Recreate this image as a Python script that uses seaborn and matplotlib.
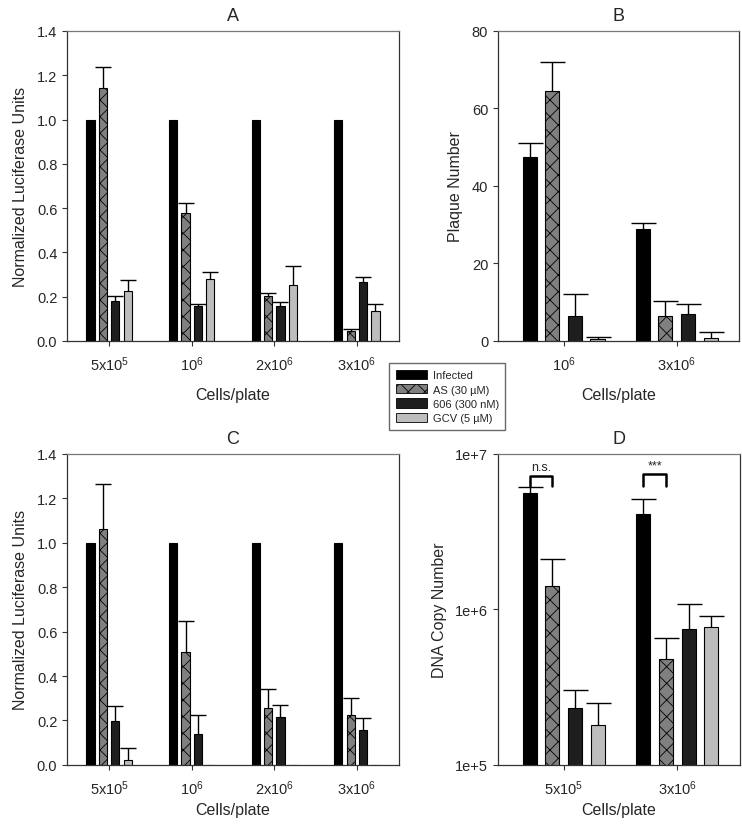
'''Recreate four-panel bar figure (luciferase, plaques, DNA copy number)'''

### IMPORTS ###

import numpy as np
import pandas as pd
import matplotlib
matplotlib.use('Agg')
import matplotlib.pyplot as plt
import seaborn as sns
from matplotlib.patches import Patch

### DATA ###

treatments = ['Infected', 'AS (30 µM)', '606 (300 nM)', 'GCV (5 µM)']
colors = ['#000000', '#808080', '#1e1e1e', '#bdbdbd']

# panel A / C : four cell densities
cells_4 = ['5x10$^5$', '10$^6$', '2x10$^6$', '3x10$^6$']
a_inf = [1.0, 1.0, 1.0, 1.0]
a_as = [1.143, 0.576, 0.202, 0.045]
a_606 = [0.179, 0.156, 0.156, 0.266]
a_gcv = [0.227, 0.278, 0.254, 0.137]
a_inf_err = [0, 0, 0, 0]
a_as_err = [0.093, 0.048, 0.016, 0.011]
a_606_err = [0.022, 0.009, 0.018, 0.023]
a_gcv_err = [0.047, 0.032, 0.084, 0.030]

c_inf = [1.0, 1.0, 1.0, 1.0]
c_as = [1.062, 0.508, 0.255, 0.223]
c_606 = [0.199, 0.137, 0.217, 0.158]
c_gcv = [0.024, 0.0, 0.0, 0.0]
c_inf_err = [0, 0, 0, 0]
c_as_err = [0.203, 0.142, 0.085, 0.077]
c_606_err = [0.065, 0.087, 0.053, 0.051]
c_gcv_err = [0.051, 0, 0, 0]

# panel B : plaques
cells_b = ['10$^6$', '3x10$^6$']
b_inf = [47.6, 29.0]
b_as = [64.4, 6.55]
b_606 = [6.55, 7.0]
b_gcv = [0.6, 0.86]
b_inf_err = [3.4, 1.4]
b_as_err = [7.5, 3.65]
b_606_err = [5.65, 2.6]
b_gcv_err = [0.5, 1.55]

# panel D : DNA copies
cells_d = ['5x10$^5$', '3x10$^6$']
d_inf = [5.63e6, 4.12e6]
d_as = [1.41e6, 4.83e5]
d_606 = [2.32e5, 7.43e5]
d_gcv = [1.81e5, 7.69e5]
d_inf_err = [5.2e5, 1.01e6]
d_as_err = [7.1e5, 1.76e5]
d_606_err = [7.0e4, 3.34e5]
d_gcv_err = [7.0e4, 1.33e5]
d_sig = ['n.s.', '***']
d_bracket_top = [7.2e6, 7.4e6]
d_bracket_foot = [6.2e6, 6.2e6]

lum_ticks = [0.0, 0.2, 0.4, 0.6, 0.8, 1.0, 1.2, 1.4]
plaque_ticks = [0, 20, 40, 60, 80]
dna_ticks = [1e5, 1e6, 1e7]
dna_labels = ['1e+5', '1e+6', '1e+7']

### STYLE ###

sns.set_style('ticks')
plt.rcParams['font.family'] = ['Liberation Sans', 'DejaVu Sans']
plt.rcParams['mathtext.default'] = 'regular'
plt.rcParams['hatch.linewidth'] = 0.6
plt.rcParams['hatch.color'] = 'black'

### FUNCTIONS ###

def make_df(cells, series):
    rows = []
    for t, vals in zip(treatments, series):
        for c, v in zip(cells, vals):
            rows.append({'cells': c, 'treatment': t, 'value': v})
    return pd.DataFrame(rows)


def bar_panel(ax, cells, series, errs, width, gap, capsize):
    df = make_df(cells, series)
    sns.barplot(data=df, x='cells', y='value', hue='treatment', order=cells,
                hue_order=treatments, palette=colors, saturation=1,
                errorbar=None, width=width, gap=gap, edgecolor='black',
                linewidth=0.8, legend=False, ax=ax)
    n = len(cells)
    bars = list(ax.patches)
    for i, (vals, err) in enumerate(zip(series, errs)):
        group = bars[i * n:(i + 1) * n]
        if treatments[i].startswith('AS'):
            for p in group:
                p.set_hatch('xx')
        xs = [p.get_x() + p.get_width() / 2 for p in group]
        keep = [k for k in range(n) if err[k] > 0]
        if keep:
            _, caps, _ = ax.errorbar([xs[k] for k in keep], [vals[k] for k in keep],
                                     yerr=[[0] * len(keep), [err[k] for k in keep]],
                                     fmt='none', ecolor='black', elinewidth=1.0,
                                     capsize=capsize, capthick=1.0)
            # only the upper cap, as in the original
            caps[0].remove()
    return bars


def style_axes(ax, title, ylabel, labelpad):
    ax.set_title(title, fontsize=13, pad=8)
    ax.set_xlabel('Cells/plate', fontsize=11.5, labelpad=labelpad)
    ax.set_ylabel(ylabel, fontsize=11.5, labelpad=6)
    ax.tick_params(axis='both', labelsize=10.5, length=3.5, width=0.8, color='#333333')
    ax.tick_params(axis='x', pad=6)
    for s in ax.spines.values():
        s.set_linewidth(0.9)
        s.set_color('#333333')
        s.set_visible(True)
    ax.spines['top'].set_color('#777777')

### PLOT ###

fig = plt.figure(figsize=(7.42, 8.28), dpi=100)
axA = fig.add_axes([0.0903, 0.587, 0.4474, 0.3744])
axB = fig.add_axes([0.671, 0.587, 0.325, 0.3744])
axC = fig.add_axes([0.0903, 0.075, 0.4474, 0.3756])
axD = fig.add_axes([0.671, 0.075, 0.326, 0.3756])

bar_panel(axA, cells_4, [a_inf, a_as, a_606, a_gcv],
          [a_inf_err, a_as_err, a_606_err, a_gcv_err], 0.6, 0.33, 5.5)
axA.set_ylim(0, 1.4)
axA.set_xlim(-0.51, 3.51)
axA.set_yticks(lum_ticks)
axA.set_yticklabels([f'{t:.1f}' for t in lum_ticks])
style_axes(axA, 'A', 'Normalized Luciferase Units', 10)

bar_panel(axB, cells_b, [b_inf, b_as, b_606, b_gcv],
          [b_inf_err, b_as_err, b_606_err, b_gcv_err], 0.8, 0.38, 9)
axB.set_ylim(0, 80)
axB.set_xlim(-0.58, 1.55)
axB.set_yticks(plaque_ticks)
style_axes(axB, 'B', 'Plaque Number', 10)

bar_panel(axC, cells_4, [c_inf, c_as, c_606, c_gcv],
          [c_inf_err, c_as_err, c_606_err, c_gcv_err], 0.6, 0.33, 5.5)
axC.set_ylim(0, 1.4)
axC.set_xlim(-0.51, 3.51)
axC.set_yticks(lum_ticks)
axC.set_yticklabels([f'{t:.1f}' for t in lum_ticks])
style_axes(axC, 'C', 'Normalized Luciferase Units', 4)

barsD = bar_panel(axD, cells_d, [d_inf, d_as, d_606, d_gcv],
                  [d_inf_err, d_as_err, d_606_err, d_gcv_err], 0.8, 0.38, 9)
axD.set_yscale('log')
axD.set_ylim(1e5, 1e7)
axD.set_xlim(-0.58, 1.55)
axD.set_yticks(dna_ticks)
axD.set_yticklabels(dna_labels)
axD.yaxis.set_minor_locator(matplotlib.ticker.NullLocator())
style_axes(axD, 'D', 'DNA Copy Number', 4)

# significance brackets between Infected and AS
nD = len(cells_d)
for k in range(nD):
    p0 = barsD[k]
    p1 = barsD[nD + k]
    x0 = p0.get_x() + p0.get_width() / 2
    x1 = p1.get_x() + p1.get_width() / 2
    axD.plot([x0, x0, x1, x1],
             [d_bracket_foot[k], d_bracket_top[k], d_bracket_top[k], d_bracket_foot[k]],
             color='black', lw=1.8)
    axD.text((x0 + x1) / 2, d_bracket_top[k] * 1.05, d_sig[k],
             ha='center', va='bottom', fontsize=9)

handles = [Patch(facecolor=c, edgecolor='black', linewidth=0.6,
                 hatch='xx' if t.startswith('AS') else None)
           for t, c in zip(treatments, colors)]
fig.legend(handles=handles, labels=treatments, loc='upper left',
           bbox_to_anchor=(0.517, 0.567), fontsize=8, frameon=True,
           fancybox=False, edgecolor='#444444', handlelength=2.8,
           handleheight=0.9, labelspacing=0.35, borderpad=0.6,
           handletextpad=0.5)

fig.savefig('out.png', dpi=100)
